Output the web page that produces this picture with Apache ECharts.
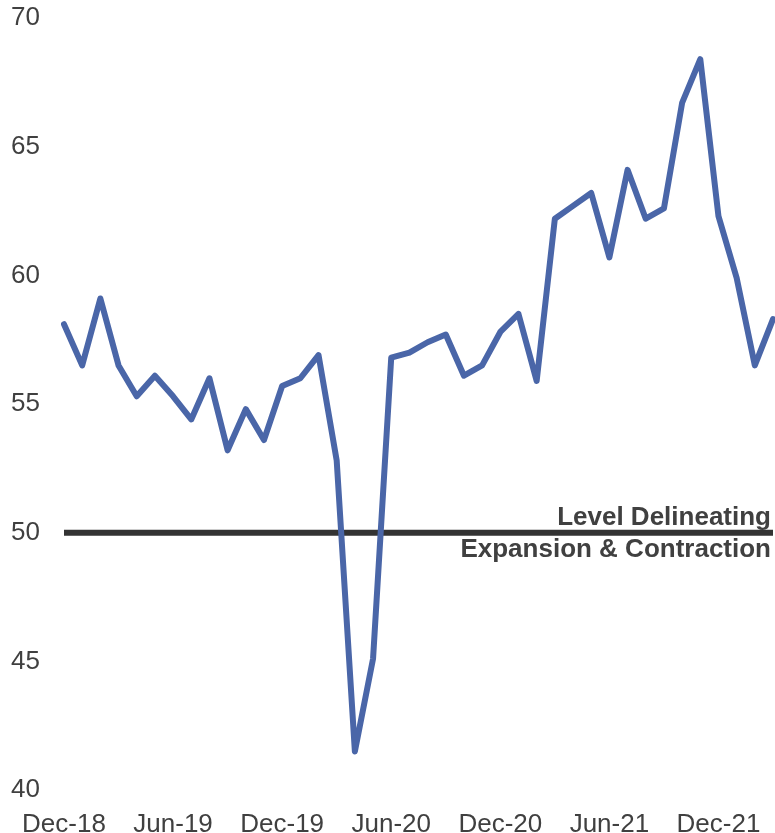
<!DOCTYPE html>
<html>
<head>
<meta charset="utf-8">
<script src="https://cdn.jsdelivr.net/npm/echarts@6/dist/echarts.min.js"></script>
<style>
html,body{margin:0;padding:0;background:#fff;}
#chart{width:775px;height:833px;}
</style>
</head>
<body>
<div id="chart"></div>
<script>
const months = ["Dec-18","Jan-19","Feb-19","Mar-19","Apr-19","May-19","Jun-19","Jul-19","Aug-19","Sep-19","Oct-19","Nov-19",
"Dec-19","Jan-20","Feb-20","Mar-20","Apr-20","May-20","Jun-20","Jul-20","Aug-20","Sep-20","Oct-20","Nov-20",
"Dec-20","Jan-21","Feb-21","Mar-21","Apr-21","May-21","Jun-21","Jul-21","Aug-21","Sep-21","Oct-21","Nov-21",
"Dec-21","Jan-22","Feb-22","Mar-22"];
const values = [58.1,56.5,59.1,56.5,55.3,56.1,55.3,54.4,56.0,53.2,54.8,53.6,
55.7,56.0,56.9,52.8,41.5,45.1,56.8,57.0,57.4,57.7,56.1,56.5,
57.8,58.5,55.9,62.2,62.7,63.2,60.7,64.1,62.2,62.6,66.7,68.4,
62.3,59.9,56.5,58.3];
const thresholdValue = 50;
const annotationLines = ["Level Delineating","Expansion & Contraction"];
const yMin = 40, yMax = 70, yStep = 5;

const chart = echarts.init(document.getElementById('chart'));
const font = '"Liberation Sans", Arial, sans-serif';
chart.setOption({
  animation:false,
  grid:{left:64,right:2,top:18,bottom:43,containLabel:false,outerBoundsMode:'none'},
  xAxis:{
    type:'category', data:months, boundaryGap:false,
    axisLine:{show:false}, axisTick:{show:false}, splitLine:{show:false},
    axisLabel:{interval:5, color:'#404040', fontSize:26, fontFamily:font, margin:22}
  },
  yAxis:{
    type:'value', min:yMin, max:yMax, interval:yStep,
    axisLine:{show:false}, axisTick:{show:false}, splitLine:{show:false},
    axisLabel:{color:'#404040', fontSize:26, fontFamily:font, margin:24}
  },
  series:[{
    type:'line', data:values, symbol:'none',
    lineStyle:{color:'#4a66a8', width:6, join:'round', cap:'round'},
    z:2
  },{
    type:'line', data:months.map(()=>thresholdValue), symbol:'none',
    lineStyle:{color:'#333333', width:6},
    z:1, silent:true
  }],
  graphic:[
    {type:'text', right:4, top:505, style:{text:annotationLines[0], font:'bold 26px ' + font, fill:'#404040', align:'right'}},
    {type:'text', right:4, top:537, style:{text:annotationLines[1], font:'bold 26px ' + font, fill:'#404040', align:'right'}}
  ]
});
</script>
</body>
</html>
